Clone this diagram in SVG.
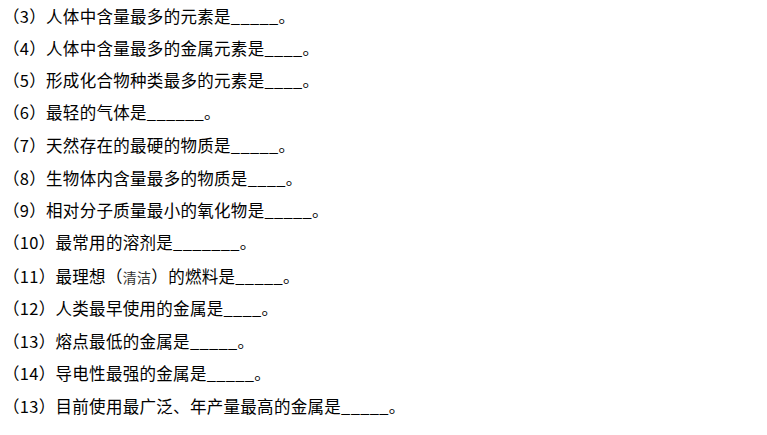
<svg xmlns="http://www.w3.org/2000/svg" width="767" height="435" viewBox="0 0 767 435">
<style>
text{font-family:"Noto Sans CJK SC","Liberation Serif",serif;font-size:16.5px;letter-spacing:0.3px;fill:#000}
.k{font-size:14px;fill:#333}
</style>
<rect width="767" height="435" fill="#fff"/>
<g id="lines">
<text x="3" y="23">（3）人体中含量最多的元素是_____。</text>
<text x="3" y="55">（4）人体中含量最多的金属元素是____。</text>
<text x="3" y="87">（5）形成化合物种类最多的元素是____。</text>
<text x="3" y="119">（6）最轻的气体是______。</text>
<text x="3" y="152">（7）天然存在的最硬的物质是_____。</text>
<text x="3" y="185">（8）生物体内含量最多的物质是____。</text>
<text x="3" y="217">（9）相对分子质量最小的氧化物是_____。</text>
<text x="3" y="249">（10）最常用的溶剂是_______。</text>
<text x="3" y="283">（11）最理想（<tspan class="k">清洁</tspan>）的燃料是_____。</text>
<text x="3" y="315">（12）人类最早使用的金属是____。</text>
<text x="3" y="348">（13）熔点最低的金属是_____。</text>
<text x="3" y="380">（14）导电性最强的金属是_____。</text>
<text x="3" y="413">（13）目前使用最广泛、年产量最高的金属是_____。</text>
</g>
</svg>
